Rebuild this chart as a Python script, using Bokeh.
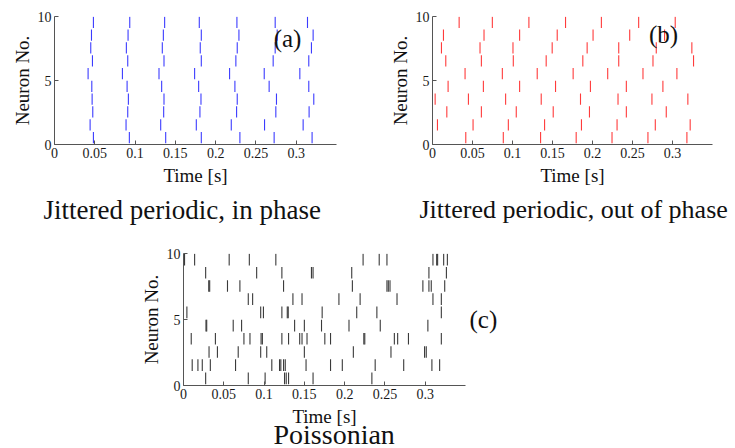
from bokeh.plotting import figure
from bokeh.layouts import column, row
from bokeh.models import Label, FixedTicker, Range1d, Title, LinearAxis
from bokeh.embed import file_html
from bokeh.resources import INLINE

# ---------------- data ----------------
X_TICKS = [0, 0.05, 0.1, 0.15, 0.2, 0.25, 0.3]
X_TICK_LABELS = ["0", "0.05", "0.1", "0.15", "0.2", "0.25", "0.3"]
Y_TICKS = [0, 5, 10]
Y_TICK_LABELS = ["0", "5", "10"]

# spike times [s] for neurons 1..10 (bottom to top)
spikes_a = [
    [0.0483, 0.0929, 0.1380, 0.1822, 0.2301, 0.2726, 0.3197],
    [0.0442, 0.0888, 0.1318, 0.1760, 0.2194, 0.2607, 0.3086],
    [0.0475, 0.0909, 0.1355, 0.1805, 0.2260, 0.2747, 0.3160],
    [0.0467, 0.0917, 0.1359, 0.1818, 0.2268, 0.2755, 0.3218],
    [0.0463, 0.0901, 0.1330, 0.1789, 0.2239, 0.2664, 0.3156],
    [0.0417, 0.0843, 0.1297, 0.1739, 0.2173, 0.2603, 0.3045],
    [0.0471, 0.0909, 0.1359, 0.1822, 0.2251, 0.2714, 0.3156],
    [0.0450, 0.0892, 0.1338, 0.1809, 0.2268, 0.2739, 0.3189],
    [0.0459, 0.0913, 0.1351, 0.1822, 0.2289, 0.2764, 0.3210],
    [0.0483, 0.0934, 0.1367, 0.1797, 0.2264, 0.2739, 0.3140],
]

spikes_b = [
    [0.0416, 0.0885, 0.1351, 0.1796, 0.2244, 0.2693, 0.3180],
    [0.0062, 0.0507, 0.0948, 0.1401, 0.1862, 0.2307, 0.2785, 0.3221],
    [0.0179, 0.0611, 0.1047, 0.1509, 0.1962, 0.2423, 0.2922],
    [0.0033, 0.0449, 0.0914, 0.1359, 0.1850, 0.2319, 0.2743, 0.3192],
    [0.0195, 0.0636, 0.1089, 0.1538, 0.1974, 0.2423, 0.2880],
    [0.0407, 0.0873, 0.1309, 0.1758, 0.2190, 0.2631, 0.3055],
    [0.0166, 0.0611, 0.1010, 0.1421, 0.1879, 0.2328, 0.2756, 0.3263],
    [0.0112, 0.0594, 0.1006, 0.1496, 0.1933, 0.2328, 0.2797, 0.3242],
    [0.0137, 0.0644, 0.1089, 0.1559, 0.2007, 0.2465, 0.2901],
    [0.0333, 0.0748, 0.1205, 0.1663, 0.2111, 0.2577, 0.3034],
]

spikes_c = [
    [0.0275, 0.0804, 0.1013, 0.1254, 0.1275, 0.1304, 0.1608, 0.2338],
    [0.0108, 0.0179, 0.0233, 0.0333, 0.0646, 0.1096, 0.1192, 0.1208, 0.1242,
     0.1263, 0.1521, 0.1825, 0.1971, 0.2379, 0.2733, 0.3083, 0.3179],
    [0.0317, 0.0421, 0.0679, 0.0958, 0.1033, 0.1500, 0.2108, 0.2575, 0.2992, 0.3013],
    [0.0096, 0.0396, 0.0750, 0.0825, 0.0963, 0.0979, 0.1221, 0.1304, 0.1442,
     0.1471, 0.1533, 0.1754, 0.1825, 0.2238, 0.2250, 0.2617, 0.2658, 0.2792, 0.3200],
    [0.0279, 0.0288, 0.0617, 0.0721, 0.1379, 0.1500, 0.1713, 0.2054, 0.2442, 0.3033],
    [0.0042, 0.0958, 0.0992, 0.1221, 0.1288, 0.1300, 0.1721, 0.2150, 0.2400, 0.3200],
    [0.0804, 0.0858, 0.1358, 0.1471, 0.1929, 0.2192, 0.2650, 0.3096, 0.3200],
    [0.0313, 0.0325, 0.0546, 0.0700, 0.1242, 0.2096, 0.2525, 0.2542, 0.2563,
     0.2971, 0.3046, 0.3075, 0.3242],
    [0.0275, 0.0908, 0.1221, 0.1588, 0.1608, 0.2088, 0.3046, 0.3263],
    [0.0013, 0.0138, 0.0567, 0.0817, 0.1146, 0.2229, 0.2429, 0.2525, 0.3096,
     0.3142, 0.3154, 0.3229, 0.3275],
]

X_LABEL = "Time [s]"
Y_LABEL = "Neuron No."
X_MAX = 0.35

FONT = "Liberation Serif"
AXIS_COLOR = "#555555"
TEXT_COLOR = "#111111"


def make_panel(spikes, color, width, height, bl, br, bt, bb,
               tag, tag_xy, caption, caption_off, caption_size, caption_standoff):
    p = figure(width=width, height=height,
               x_range=Range1d(0, X_MAX), y_range=Range1d(0, 10),
               output_backend="svg", toolbar_location=None,
               min_border_left=bl, min_border_right=br,
               min_border_top=bt, min_border_bottom=bb,
               background_fill_color="white", border_fill_color="white")
    p.grid.visible = False
    p.outline_line_color = None

    xs, y0s, y1s = [], [], []
    for n, times in enumerate(spikes, start=1):
        for t in times:
            xs.append(t)
            y0s.append(n - 0.9)
            y1s.append(n - 0.02)
    p.segment(x0=xs, y0=y0s, x1=xs, y1=y1s, line_color=color, line_width=1.1)

    for ax in (p.xaxis[0], p.yaxis[0]):
        ax.major_tick_in = 4
        ax.major_tick_out = 0
        ax.minor_tick_line_color = None
        ax.axis_line_color = AXIS_COLOR
        ax.major_tick_line_color = AXIS_COLOR
        ax.major_label_text_font = FONT
        ax.major_label_text_font_size = "14px"
        ax.major_label_text_color = "#1a1a1a"
        ax.axis_label_text_font = FONT
        ax.axis_label_text_font_size = "19px"
        ax.axis_label_text_font_style = "normal"
        ax.axis_label_text_color = TEXT_COLOR
        ax.major_label_standoff = 3
    p.xaxis.axis_label_standoff = 4
    p.yaxis.axis_label_standoff = 2

    p.xaxis.ticker = FixedTicker(ticks=X_TICKS)
    p.xaxis.major_label_overrides = {k: v for k, v in zip(X_TICKS, X_TICK_LABELS)}
    p.yaxis.ticker = FixedTicker(ticks=Y_TICKS)
    p.yaxis.major_label_overrides = {k: v for k, v in zip(Y_TICKS, Y_TICK_LABELS)}
    p.xaxis.axis_label = X_LABEL
    p.yaxis.axis_label = Y_LABEL

    if tag_xy is None:
        # panel tag placed to the right of the axes box
        tag_axis = LinearAxis(axis_label=tag, axis_label_orientation="horizontal",
                              ticker=FixedTicker(ticks=[]),
                              axis_line_color=None, major_tick_line_color=None,
                              minor_tick_line_color=None,
                              axis_label_text_font=FONT, axis_label_text_font_size="25px",
                              axis_label_text_font_style="normal",
                              axis_label_text_color=TEXT_COLOR, axis_label_standoff=4)
        p.add_layout(tag_axis, "right")
    else:
        p.add_layout(Label(x=tag_xy[0], y=tag_xy[1], x_units="screen", y_units="screen",
                           text=tag, text_font=FONT, text_font_size="25px",
                           text_align="center", text_baseline="middle",
                           text_color=TEXT_COLOR))
    p.add_layout(Title(text=caption, align="left", offset=caption_off,
                       vertical_align="top", standoff=caption_standoff,
                       text_font=FONT, text_font_size=caption_size,
                       text_font_style="normal", text_color=TEXT_COLOR), "below")
    return p


fa = make_panel(spikes_a, "#3c3cff", 360, 240, 54, 24, 16, 94,
                "(a)", (233, 106), "Jittered periodic, in phase", -11, "27px", 12)
fb = make_panel(spikes_b, "#ff3b3b", 375, 240, 72, 23, 16, 96,
                "(b)", (231, 110), "Jittered periodic, out of phase", -13, "26px", 12)
fc = make_panel(spikes_c, "#3a3a3a", 525, 208, 183, 60, 13, 63,
                "(c)", None, "Poissonian", 90, "28px", -22)

layout = column(row(fa, fb), fc)

with open("out.html", "w") as f:
    f.write(file_html(layout, INLINE))
